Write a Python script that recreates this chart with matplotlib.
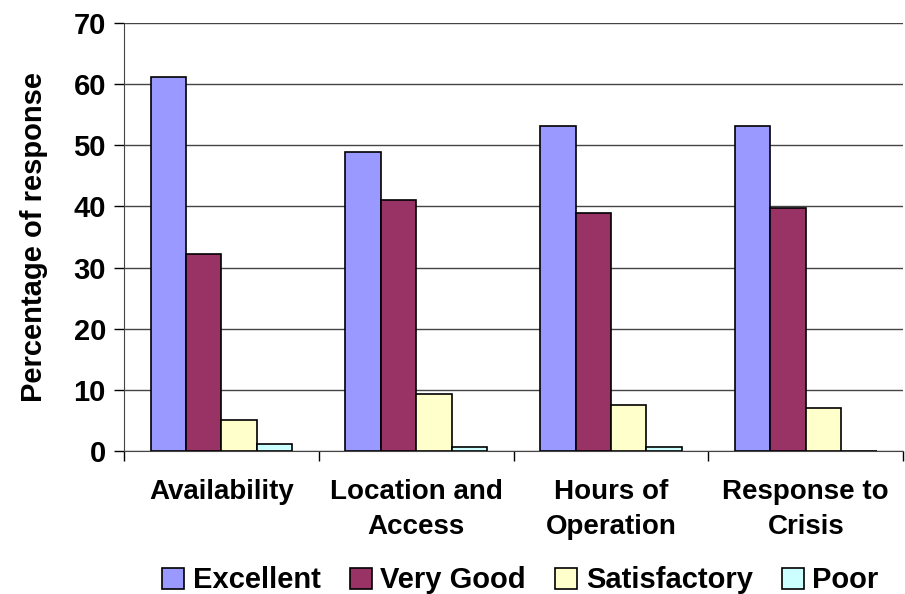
import numpy as np
import matplotlib.pyplot as plt

plt.rcParams['font.family'] = ['Liberation Sans', 'DejaVu Sans']
plt.rcParams['font.weight'] = 'bold'

categories = ['Availability', 'Location and\nAccess', 'Hours of\nOperation', 'Response to\nCrisis']
series = ['Excellent', 'Very Good', 'Satisfactory', 'Poor']
excellent = [61.2, 48.9, 53.2, 53.2]
very_good = [32.2, 41.1, 39.0, 39.7]
satisfactory = [5.1, 9.4, 7.6, 7.1]
poor = [1.2, 0.6, 0.6, 0.0]
colors = ['#9999FF', '#993366', '#FFFFCC', '#CCFFFF']

values = [excellent, very_good, satisfactory, poor]

fig = plt.figure(figsize=(9.05, 5.94), dpi=100)
ax = fig.add_axes([0.137, 0.2407, 0.861, 0.7206])

x = np.arange(len(categories))
w = 1 / 5.5
for i, (name, vals) in enumerate(zip(series, values)):
    ax.bar(x - 1.5 * w + i * w, vals, width=w, color=colors[i],
           edgecolor='black', linewidth=1.2, label=name, zorder=3)

ax.set_xlim(-0.5, len(categories) - 0.5)
ax.set_ylim(0, 70)
ax.set_yticks(range(0, 71, 10))
ax.yaxis.grid(True, color='#444444', linewidth=1.0, zorder=0)
ax.set_axisbelow(True)

ax.set_xticks(x)
ax.set_xticklabels(categories, fontsize=20, fontweight='bold', linespacing=1.45)
ax.set_xticks(np.arange(-0.5, len(categories), 1), minor=True)
ax.tick_params(axis='x', which='major', length=0, pad=20)
ax.tick_params(axis='x', which='minor', length=7, width=1, direction='out')
ax.tick_params(axis='y', labelsize=21, length=7, width=1, pad=6)
for lab in ax.get_yticklabels():
    lab.set_fontweight('bold')

for s in ['top', 'right']:
    ax.spines[s].set_visible(False)
ax.spines['left'].set_color('#444444')
ax.spines['bottom'].set_color('#444444')

ax.set_ylabel('Percentage of response', fontsize=21, fontweight='bold', labelpad=18)

fig.legend(loc='lower center', bbox_to_anchor=(0.575, -0.045), ncol=4, frameon=False,
           prop={'size': 21, 'weight': 'bold'}, handlelength=0.75, handleheight=0.75,
           handletextpad=0.3, columnspacing=1.0)

fig.savefig('out.png', dpi=100)
